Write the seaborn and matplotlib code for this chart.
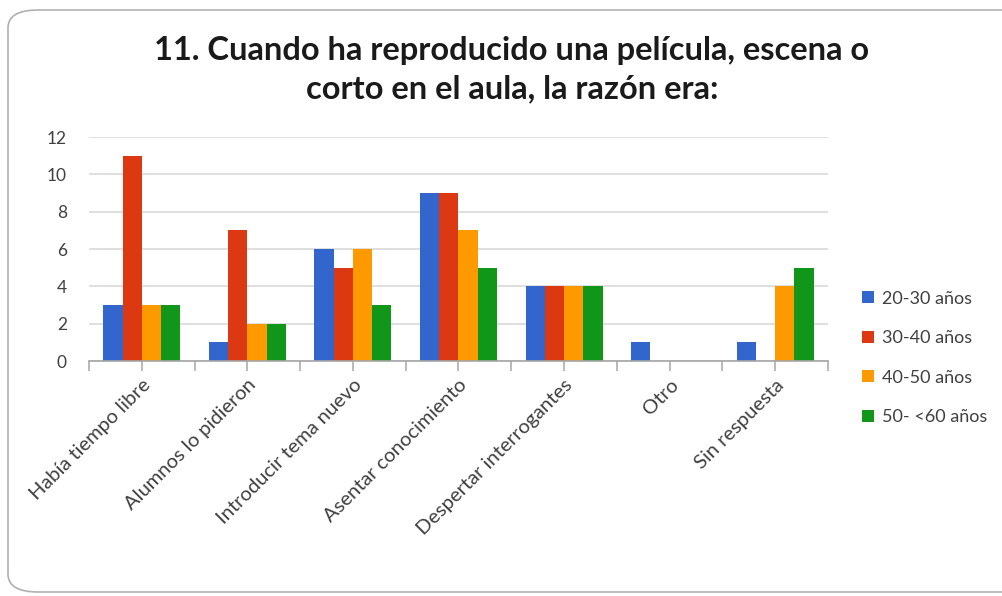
import pandas as pd
import seaborn as sns
import matplotlib.pyplot as plt
from matplotlib.patches import FancyBboxPatch

# Data
categories = ["Había tiempo libre", "Alumnos lo pidieron", "Introducir tema nuevo",
              "Asentar conocimiento", "Despertar interrogantes", "Otro", "Sin respuesta"]
groups = ["20-30 años", "30-40 años", "40-50 años", "50- <60 años"]
age_20_30 = [3, 1, 6, 9, 4, 1, 1]
age_30_40 = [11, 7, 5, 9, 4, 0, 0]
age_40_50 = [3, 2, 6, 7, 4, 0, 4]
age_50_60 = [3, 2, 3, 5, 4, 0, 5]
colors = ["#3366CC", "#DC3912", "#FF9900", "#109618"]
title = "11. Cuando ha reproducido una película, escena o\ncorto en el aula, la razón era:"

rows = []
for g, vals in zip(groups, [age_20_30, age_30_40, age_40_50, age_50_60]):
    for c, v in zip(categories, vals):
        rows.append({"razon": c, "edad": g, "n": v})
df = pd.DataFrame(rows)

sns.set_theme(style="white")
plt.rcParams['font.family'] = ['Lato', 'DejaVu Sans']

fig = plt.figure(figsize=(10.03, 5.96), dpi=100)
W, H = 1003, 596

# rounded card border
card = FancyBboxPatch((8 / W, 4 / H), 1.05, 582 / H, boxstyle="round,pad=0,rounding_size=0.03",
                      transform=fig.transFigure, facecolor="white", edgecolor="#b0b0b0",
                      linewidth=1.2, zorder=-5)
fig.patches.append(card)

ax = fig.add_axes([89 / W, 1 - 361 / H, (828 - 89) / W, (361 - 137) / H])
ax.set_facecolor("none")
sns.barplot(data=df, x="razon", y="n", hue="edad", palette=colors, width=0.73,
            saturation=1, linewidth=0, ax=ax, zorder=3)

ax.set_ylim(0, 12)
ax.set_yticks(range(0, 13, 2))
ax.set_xlim(-0.5, len(categories) - 0.5)
ax.yaxis.grid(True, color="#d9d9d9", linewidth=1.2, zorder=0)
ax.set_axisbelow(True)
for s in ["top", "right", "left"]:
    ax.spines[s].set_visible(False)
ax.spines["bottom"].set_color("#a6a6a6")
ax.spines["bottom"].set_linewidth(1.2)
ax.spines["bottom"].set_zorder(4)

ax.set_xticks(range(len(categories)))
ax.set_xticks([i - 0.5 for i in range(len(categories) + 1)], minor=True)
ax.tick_params(axis="x", which="both", direction="out", length=7, width=1.1,
               color="#a6a6a6", bottom=True)
ax.tick_params(axis="y", length=0, labelsize=12.5, colors="#404040", pad=16)
ax.set_xticklabels(categories, rotation=45, ha="right", rotation_mode="anchor",
                   fontsize=14.5, color="#404040")
ax.tick_params(axis="x", which="major", pad=4)
ax.set_xlabel("")
ax.set_ylabel("")

handles, labels = ax.get_legend_handles_labels()
ax.legend(handles, labels, loc="center left", bbox_to_anchor=(846 / W, 1 - 358 / H),
          bbox_transform=fig.transFigure, frameon=False, fontsize=13, handlelength=0.65,
          handleheight=0.65, handletextpad=0.45, labelspacing=1.3, labelcolor="#404040")

fig.text(512 / W, 1 - 70 / H, title, ha="center", va="center", fontsize=23.5,
         fontweight="bold", color="#1a1a1a", linespacing=1.4)

fig.savefig("out.png", dpi=100)
